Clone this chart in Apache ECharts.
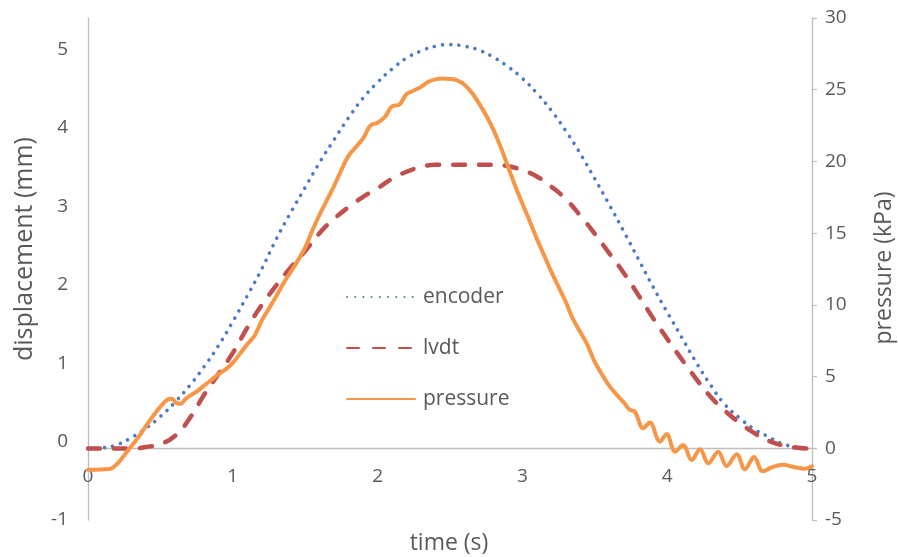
<!DOCTYPE html>
<html>
<head>
<meta charset="utf-8">
<script src="https://cdn.jsdelivr.net/npm/echarts@6/dist/echarts.min.js"></script>
<style>
  html, body { margin: 0; padding: 0; background: #ffffff; }
  #chart { width: 898px; height: 557px; }
</style>
</head>
<body>
<div id="chart"></div>
<script>
// Displacement samples every 0.1 s (mm)
const timeS = [0.0, 0.1, 0.2, 0.3, 0.4, 0.5, 0.6, 0.7, 0.8, 0.9,
  1.0, 1.1, 1.2, 1.3, 1.4, 1.5, 1.6, 1.7, 1.8, 1.9,
  2.0, 2.1, 2.2, 2.3, 2.4, 2.5, 2.6, 2.7, 2.8, 2.9,
  3.0, 3.1, 3.2, 3.3, 3.4, 3.5, 3.6, 3.7, 3.8, 3.9,
  4.0, 4.1, 4.2, 4.3, 4.4, 4.5, 4.6, 4.7, 4.8, 4.9, 5.0];

const encoderMm = [-0.09, -0.08, -0.04, 0.05, 0.17, 0.32, 0.50, 0.71, 0.95, 1.22,
  1.53, 1.86, 2.20, 2.58, 2.92, 3.24, 3.56, 3.85, 4.13, 4.38,
  4.58, 4.75, 4.89, 4.98, 5.04, 5.06, 5.04, 4.99, 4.90, 4.78,
  4.63, 4.44, 4.22, 3.96, 3.67, 3.35, 3.02, 2.68, 2.33, 1.98,
  1.65, 1.33, 1.01, 0.72, 0.47, 0.30, 0.16, 0.06, -0.03, -0.07, -0.09];

const lvdtMm = [-0.09, -0.09, -0.09, -0.09, -0.07, -0.03, 0.07, 0.29, 0.59, 0.86,
  1.13, 1.45, 1.74, 1.99, 2.22, 2.43, 2.66, 2.84, 2.99, 3.12,
  3.23, 3.35, 3.44, 3.50, 3.53, 3.53, 3.53, 3.53, 3.53, 3.51,
  3.46, 3.38, 3.25, 3.09, 2.88, 2.65, 2.40, 2.15, 1.87, 1.58,
  1.31, 1.05, 0.80, 0.57, 0.39, 0.24, 0.11, 0.01, -0.05, -0.08, -0.09];

// Pressure samples (kPa), denser where the signal ripples
const pressureTimeS = [0, 0.15, 0.2, 0.25, 0.3, 0.35, 0.4, 0.45, 0.5, 0.55,
  0.58, 0.61, 0.64, 0.67, 0.71, 0.75, 0.8, 0.85, 0.9, 0.95,
  1.0, 1.05, 1.1, 1.15, 1.2, 1.25, 1.3, 1.35, 1.4, 1.45,
  1.5, 1.55, 1.6, 1.65, 1.7, 1.75, 1.8, 1.85, 1.9, 1.95,
  2.0, 2.05, 2.1, 2.15, 2.2, 2.25, 2.3, 2.35, 2.4, 2.45,
  2.5, 2.55, 2.6, 2.65, 2.7, 2.75, 2.8, 2.85, 2.9, 2.95,
  3.0, 3.05, 3.1, 3.15, 3.2, 3.25, 3.3, 3.35, 3.4, 3.45,
  3.5, 3.55, 3.6, 3.65, 3.7, 3.74, 3.777, 3.834, 3.88, 3.95,
  3.996, 4.054, 4.11, 4.169, 4.227, 4.284, 4.352, 4.41, 4.48, 4.537,
  4.60, 4.66, 4.73, 4.8, 4.87, 4.95, 5.0];

const pressureKpa = [-1.5, -1.45, -1.1, -0.5, 0.15, 0.8, 1.55, 2.25, 2.9, 3.4,
  3.45, 3.15, 3.1, 3.4, 3.7, 3.95, 4.35, 4.75, 5.15, 5.5,
  5.95, 6.6, 7.25, 7.85, 8.9, 9.75, 10.6, 11.5, 12.3, 13.1,
  14.0, 15.2, 16.3, 17.3, 18.3, 19.4, 20.4, 21.0, 21.6, 22.5,
  22.7, 23.1, 23.85, 23.95, 24.7, 24.95, 25.2, 25.55, 25.72, 25.78,
  25.75, 25.65, 25.35, 24.8, 24.05, 23.2, 22.2, 21.0, 19.65, 18.3,
  17.05, 15.85, 14.6, 13.45, 12.3, 11.25, 10.2, 9.0, 8.1, 7.2,
  6.0, 5.15, 4.35, 3.75, 3.2, 2.7, 2.55, 1.40, 1.79, 0.46,
  1.00, -0.24, 0.23, -0.82, -0.07, -1.05, -0.24, -1.24, -0.42, -1.47,
  -0.6, -1.6, -1.3, -1.15, -1.3, -1.42, -1.25];

// Axis ranges and tick steps
const timeAxis = { min: 0, max: 5, step: 1 };
const displacementAxis = { min: -1, max: 5.4, step: 1 };
const pressureAxis = { min: -5, max: 30, step: 5 };

const seriesNames = ['encoder', 'lvdt', 'pressure'];

const FONT = '"Open Sans", "Noto Sans", sans-serif';
const TEXT = '#595959';
const AXIS = '#bfbfbf';

const W = 898, H = 557;
const GRID = { left: 88, right: 86, top: 18, bottom: 37 };
const plotHeight = H - GRID.top - GRID.bottom;
// The time axis crosses the pressure axis at 0 kPa; labels travel with it
const timeAxisOffset = -plotHeight * (0 - pressureAxis.min) / (pressureAxis.max - pressureAxis.min);

const pairs = (xs, ys) => xs.map((x, i) => [x, ys[i]]);

const chart = echarts.init(document.getElementById('chart'), null, { renderer: 'canvas' });

chart.setOption({
  animation: false,
  backgroundColor: '#ffffff',
  grid: Object.assign({ containLabel: false }, GRID),
  legend: {
    data: seriesNames,
    orient: 'vertical',
    left: 346,
    top: 285,
    padding: 0,
    itemWidth: 68,
    itemHeight: 14,
    itemGap: 27,
    itemStyle: { opacity: 0 },
    textStyle: { color: TEXT, fontFamily: FONT, fontSize: 21, lineHeight: 24, padding: [0, 0, 0, 3] }
  },
  xAxis: {
    type: 'value',
    min: timeAxis.min,
    max: timeAxis.max,
    interval: timeAxis.step,
    offset: timeAxisOffset,
    axisLine: { show: true, onZero: false, lineStyle: { color: AXIS, width: 1.3 } },
    axisTick: { show: false },
    splitLine: { show: false },
    axisLabel: { color: TEXT, fontFamily: FONT, fontSize: 19, margin: 19 }
  },
  yAxis: [
    {
      type: 'value',
      position: 'left',
      min: displacementAxis.min,
      max: displacementAxis.max,
      interval: displacementAxis.step,
      axisLine: { show: true, onZero: false, lineStyle: { color: AXIS, width: 1.3 } },
      axisTick: { show: false },
      splitLine: { show: false },
      axisLabel: {
        color: TEXT, fontFamily: FONT, fontSize: 19, margin: 20,
        showMaxLabel: false,
        formatter: v => (Math.abs(v - Math.round(v)) < 1e-9 ? String(Math.round(v)) : '')
      }
    },
    {
      type: 'value',
      position: 'right',
      min: pressureAxis.min,
      max: pressureAxis.max,
      interval: pressureAxis.step,
      axisLine: { show: true, onZero: false, lineStyle: { color: AXIS, width: 1.3 } },
      axisTick: { show: true, inside: false, length: 5, lineStyle: { color: AXIS, width: 1.3 } },
      splitLine: { show: false },
      axisLabel: { color: TEXT, fontFamily: FONT, fontSize: 19, margin: 13 }
    }
  ],
  series: [
    {
      name: seriesNames[0],
      type: 'line',
      yAxisIndex: 0,
      data: pairs(timeS, encoderMm),
      smooth: 0.5,
      symbol: 'none',
      lineStyle: { color: '#4a7bc4', width: 3.6, type: [0.01, 8.2], cap: 'round' },
      itemStyle: { color: '#4a7bc4' },
      z: 2
    },
    {
      name: seriesNames[1],
      type: 'line',
      yAxisIndex: 0,
      data: pairs(timeS, lvdtMm),
      smooth: 0.5,
      symbol: 'none',
      lineStyle: { color: '#c0504d', width: 4.5, type: [12, 14], cap: 'round' },
      itemStyle: { color: '#c0504d' },
      z: 3
    },
    {
      name: seriesNames[2],
      type: 'line',
      yAxisIndex: 1,
      data: pairs(pressureTimeS, pressureKpa),
      smooth: 0.35,
      symbol: 'none',
      lineStyle: { color: '#f79646', width: 4, join: 'round', cap: 'round' },
      itemStyle: { color: '#f79646' },
      z: 4
    }
  ],
  graphic: [
    {
      type: 'text', x: 449, y: 543,
      style: { text: 'time (s)', fill: TEXT, font: '23px ' + FONT, textAlign: 'center', textVerticalAlign: 'middle' }
    },
    {
      type: 'text', x: 25, y: 249, rotation: Math.PI / 2,
      style: { text: 'displacement (mm)', fill: TEXT, font: '25px ' + FONT, textAlign: 'center', textVerticalAlign: 'middle' }
    },
    {
      type: 'text', x: 884, y: 268, rotation: Math.PI / 2,
      style: { text: 'pressure (kPa)', fill: TEXT, font: '23px ' + FONT, textAlign: 'center', textVerticalAlign: 'middle' }
    }
  ]
});
</script>
</body>
</html>
